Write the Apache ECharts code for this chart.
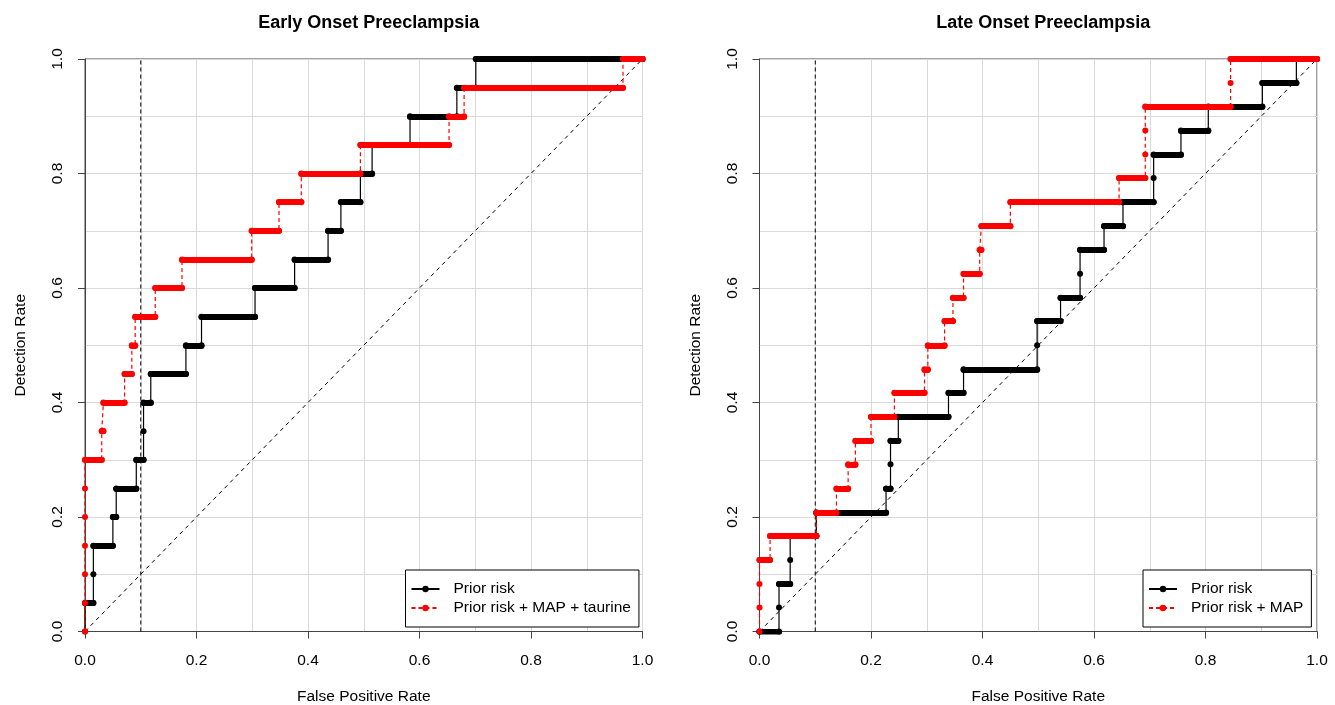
<!DOCTYPE html>
<html>
<head>
<meta charset="utf-8">
<title>ROC curves - preeclampsia</title>
<script src="https://cdn.jsdelivr.net/npm/echarts@6/dist/echarts.min.js"></script>
<style>
    html, body { margin: 0; padding: 0; background: #fff; }
    #chart { width: 1335px; height: 705px; }
</style>
</head>
<body>
<div id="chart"></div>
<script>
    // ROC points [false positive rate, detection rate]
    const earlyPrior = [
        [0, 0], [0, 0.05], [0.015, 0.05], [0.015, 0.10], [0.015, 0.15], [0.050, 0.15],
        [0.050, 0.20], [0.056, 0.20], [0.056, 0.25], [0.092, 0.25], [0.092, 0.30],
        [0.105, 0.30], [0.105, 0.35], [0.105, 0.40], [0.118, 0.40], [0.118, 0.45],
        [0.181, 0.45], [0.181, 0.50], [0.209, 0.50], [0.209, 0.55], [0.305, 0.55],
        [0.305, 0.60], [0.376, 0.60], [0.376, 0.65], [0.436, 0.65], [0.436, 0.70],
        [0.459, 0.70], [0.459, 0.75], [0.494, 0.75], [0.494, 0.80], [0.515, 0.80],
        [0.515, 0.85], [0.583, 0.85], [0.583, 0.90], [0.667, 0.90], [0.667, 0.95],
        [0.701, 0.95], [0.701, 1.0], [1, 1.0]
    ]
    const earlyMapTaurine = [
        [0, 0], [0, 0.05], [0, 0.10], [0, 0.15], [0, 0.20], [0, 0.25], [0, 0.30],
        [0.030, 0.30], [0.030, 0.35], [0.033, 0.35], [0.033, 0.40], [0.071, 0.40],
        [0.071, 0.45], [0.084, 0.45], [0.084, 0.50], [0.090, 0.50], [0.090, 0.55],
        [0.126, 0.55], [0.126, 0.60], [0.174, 0.60], [0.174, 0.65], [0.299, 0.65],
        [0.299, 0.70], [0.348, 0.70], [0.348, 0.75], [0.388, 0.75], [0.388, 0.80],
        [0.494, 0.80], [0.494, 0.85], [0.653, 0.85], [0.653, 0.90], [0.680, 0.90],
        [0.680, 0.95], [0.965, 0.95], [0.965, 1.0], [1, 1.0]
    ]
    const latePrior = [
        [0, 0], [0.035, 0], [0.035, 0.042], [0.035, 0.083], [0.055, 0.083], [0.055, 0.125],
        [0.055, 0.167], [0.102, 0.167], [0.102, 0.208], [0.227, 0.208], [0.227, 0.250],
        [0.235, 0.250], [0.235, 0.292], [0.235, 0.333], [0.249, 0.333], [0.249, 0.375],
        [0.339, 0.375], [0.339, 0.417], [0.366, 0.417], [0.366, 0.458], [0.498, 0.458],
        [0.498, 0.500], [0.498, 0.542], [0.540, 0.542], [0.540, 0.583], [0.575, 0.583],
        [0.575, 0.625], [0.575, 0.667], [0.618, 0.667], [0.618, 0.708], [0.652, 0.708],
        [0.652, 0.750], [0.707, 0.750], [0.707, 0.792], [0.707, 0.833], [0.756, 0.833],
        [0.756, 0.875], [0.805, 0.875], [0.805, 0.917], [0.902, 0.917], [0.902, 0.958],
        [0.963, 0.958], [0.963, 1.0], [1, 1.0]
    ]
    const lateMap = [
        [0, 0], [0, 0.042], [0, 0.083], [0, 0.125], [0.019, 0.125], [0.019, 0.167],
        [0.102, 0.167], [0.102, 0.208], [0.138, 0.208], [0.138, 0.250], [0.159, 0.250],
        [0.159, 0.292], [0.172, 0.292], [0.172, 0.333], [0.200, 0.333], [0.200, 0.375],
        [0.242, 0.375], [0.242, 0.417], [0.296, 0.417], [0.296, 0.458], [0.302, 0.458],
        [0.302, 0.500], [0.332, 0.500], [0.332, 0.542], [0.347, 0.542], [0.347, 0.583],
        [0.366, 0.583], [0.366, 0.625], [0.395, 0.625], [0.395, 0.667], [0.398, 0.667],
        [0.398, 0.708], [0.450, 0.708], [0.450, 0.750], [0.645, 0.750], [0.645, 0.792],
        [0.692, 0.792], [0.692, 0.833], [0.692, 0.875], [0.692, 0.917], [0.845, 0.917],
        [0.845, 0.958], [0.845, 1.0], [1, 1.0]
    ]
    // reference lines: 10% false positive rate and chance diagonal
    const cutoffLine = [[0.1, 0], [0.1, 1]]
    const chanceLine = [[0, 0], [1, 1]]

    const titles = ['Early Onset Preeclampsia', 'Late Onset Preeclampsia']
    const legendNames = [
        ['Prior risk', 'Prior risk + MAP + taurine'],
        ['Prior risk', 'Prior risk + MAP']
    ]
    const tickValues = [0, 0.2, 0.4, 0.6, 0.8, 1.0]

    const FONT = '"Liberation Sans", Arial, sans-serif'
    const gridLeft = [85, 759.5]
    const gridTop = 59
    const gridW = 557.5
    const gridH = 572.5

    // horizontal runs of the step curve are drawn as a thick band (dense points in the original)
    function horizontalRuns(pts) {
        const out = []
        for (let i = 0; i < pts.length - 1; i++) {
            if (pts[i][1] === pts[i + 1][1] && pts[i + 1][0] > pts[i][0]) {
                out.push({ coords: [pts[i], pts[i + 1]] })
            }
        }
        return out
    }

    function curveSeries(name, pts, idx, color, dashed, z) {
        return [{
            name: 'band ' + name + idx,
            type: 'lines',
            coordinateSystem: 'cartesian2d',
            xAxisIndex: idx,
            yAxisIndex: idx,
            polyline: false,
            silent: true,
            clip: true,
            z: z,
            lineStyle: { color: color, width: 6, opacity: 1, cap: 'round' },
            data: horizontalRuns(pts)
        }, {
            name: name,
            type: 'line',
            xAxisIndex: idx,
            yAxisIndex: idx,
            z: z + 1,
            symbol: 'circle',
            symbolSize: 6,
            itemStyle: { color: color },
            lineStyle: { color: color, width: 1.2, type: dashed ? [4, 3] : 'solid' },
            data: pts
        }]
    }

    function refSeries(pts, idx, dash) {
        return {
            name: 'ref',
            type: 'line',
            xAxisIndex: idx,
            yAxisIndex: idx,
            symbol: 'none',
            silent: true,
            z: 1,
            lineStyle: { color: '#000', width: 1, type: dash },
            data: pts
        }
    }

    function valueAxis(idx, isX) {
        const ax = {
            type: 'value',
            gridIndex: idx,
            min: 0,
            max: 1,
            interval: 0.2,
            name: isX ? 'False Positive Rate' : 'Detection Rate',
            nameLocation: 'middle',
            nameGap: 56,
            nameTextStyle: { fontFamily: FONT, fontSize: 15.5, color: '#000' },
            axisLine: { show: true, lineStyle: { color: '#444', width: 1 } },
            axisTick: { show: true, inside: false, length: 7, lineStyle: { color: '#444' } },
            axisLabel: {
                fontFamily: FONT,
                fontSize: 15.5,
                color: '#000',
                margin: 19,
                formatter: v => tickValues.includes(+v.toFixed(1)) ? v.toFixed(1) : ''
            },
            splitLine: { show: true, lineStyle: { color: '#d9d9d9', width: 1 } },
            minorTick: { show: false, splitNumber: 2 },
            minorSplitLine: { show: true, lineStyle: { color: '#d9d9d9', width: 1 } }
        }
        if (isX) {
            ax.nameGap = 57
            ax.axisLabel.margin = 21
        } else {
            ax.axisLabel.rotate = 90
            ax.nameRotate = 90
        }
        return ax
    }

    const chartInstance = echarts.init(document.getElementById('chart'))
    const option = {
        animation: false,
        backgroundColor: '#fff',
        title: titles.map((t, i) => ({
            text: t,
            left: gridLeft[i] + gridW / 2,
            top: 9,
            textAlign: 'center',
            textStyle: { fontFamily: FONT, fontSize: 18, fontWeight: 'bold', color: '#000' }
        })),
        grid: gridLeft.map(l => ({
            left: l,
            top: gridTop,
            width: gridW,
            height: gridH,
            outerBoundsMode: 'none',
            containLabel: false,
            show: true,
            borderColor: '#444',
            borderWidth: 1,
            backgroundColor: 'transparent'
        })),
        legend: legendNames.map((names, i) => ({
            data: names,
            orient: 'vertical',
            left: i === 0 ? 405.5 : 1143,
            top: 570,
            padding: [11, 8, 11, 5],
            itemGap: 3,
            itemWidth: 28,
            itemHeight: 8,
            borderColor: '#000',
            borderWidth: 1,
            borderRadius: 0,
            backgroundColor: '#fff',
            selectedMode: false,
            textStyle: { fontFamily: FONT, fontSize: 15.5, color: '#000', padding: [0, 0, 0, 9] }
        })),
        xAxis: [valueAxis(0, true), valueAxis(1, true)],
        yAxis: [valueAxis(0, false), valueAxis(1, false)],
        series: [
            refSeries(cutoffLine, 0, [4, 3]),
            refSeries(chanceLine, 0, [4, 4]),
            refSeries(cutoffLine, 1, [4, 3]),
            refSeries(chanceLine, 1, [4, 4]),
            ...curveSeries(legendNames[0][0], earlyPrior, 0, '#000', false, 2),
            ...curveSeries(legendNames[0][1], earlyMapTaurine, 0, '#ff0000', true, 4),
            ...curveSeries(legendNames[1][0], latePrior, 1, '#000', false, 2),
            ...curveSeries(legendNames[1][1], lateMap, 1, '#ff0000', true, 4)
        ]
    }
    chartInstance.setOption(option)
</script>
</body>
</html>
